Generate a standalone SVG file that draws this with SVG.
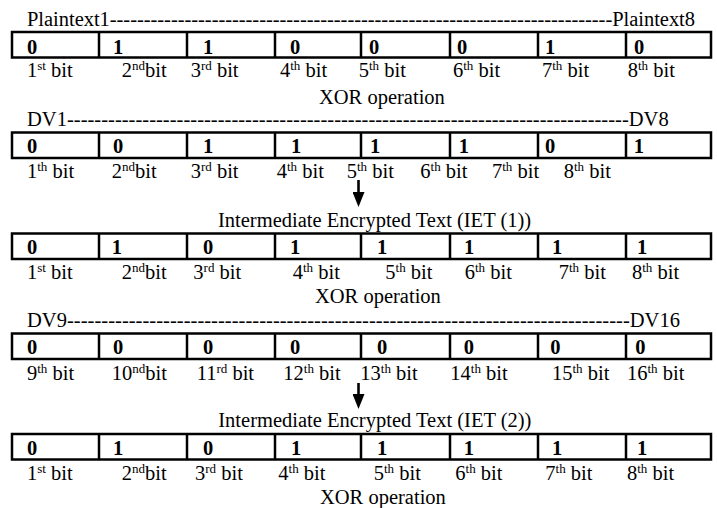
<svg xmlns="http://www.w3.org/2000/svg" width="717" height="508" viewBox="0 0 717 508">
  <style>
    text { font-family: "Liberation Serif", "Times New Roman", serif; font-size: 20.5px; fill: #000; }
    .bit { font-weight: bold; }
    .sup { font-size: 13px; }
    .cell { fill: none; stroke: #000; stroke-width: 2.5; }
    .arrow { stroke: #000; stroke-width: 2.6; fill: none; }
  </style>
  <defs>
    <!-- filled arrowhead, base sits on the end of the shaft -->
    <marker id="head" markerWidth="15" markerHeight="12" refX="0" refY="6" orient="auto" markerUnits="userSpaceOnUse" viewBox="0 0 15 12">
      <path d="M0,0 L15,6 L0,12 Z" fill="#000"/>
    </marker>
    <!-- one 8-cell register row -->
    <g id="reg">
      <rect class="cell" x="12" y="0" width="699" height="25.5"/>
      <path class="cell" d="M99,0 V25.5 M187,0 V25.5 M275,0 V25.5 M361,0 V25.5 M450,0 V25.5 M538,0 V25.5 M626,0 V25.5"/>
    </g>
  </defs>

  <!-- Plaintext register -->
  <g id="plaintext">
    <text x="27" y="26" textLength="668" lengthAdjust="spacing">Plaintext1--------------------------------------------------------------------------Plaintext8</text>
    <use href="#reg" y="32"/>
    <text class="bit" x="27" y="54">0</text>
    <text class="bit" x="113" y="54">1</text>
    <text class="bit" x="203" y="54">1</text>
    <text class="bit" x="290" y="54">0</text>
    <text class="bit" x="369" y="54">0</text>
    <text class="bit" x="457" y="54">0</text>
    <text class="bit" x="545" y="54">1</text>
    <text class="bit" x="634" y="54">0</text>
    <text x="27" y="77">1<tspan class="sup" dy="-7">st</tspan><tspan dy="7"> bit</tspan></text>
    <text x="121.7" y="77">2<tspan class="sup" dy="-7">nd</tspan><tspan dy="7">bit</tspan></text>
    <text x="190.7" y="77">3<tspan class="sup" dy="-7">rd</tspan><tspan dy="7"> bit</tspan></text>
    <text x="280" y="77">4<tspan class="sup" dy="-7">th</tspan><tspan dy="7"> bit</tspan></text>
    <text x="358.7" y="77">5<tspan class="sup" dy="-7">th</tspan><tspan dy="7"> bit</tspan></text>
    <text x="453" y="77">6<tspan class="sup" dy="-7">th</tspan><tspan dy="7"> bit</tspan></text>
    <text x="542" y="77">7<tspan class="sup" dy="-7">th</tspan><tspan dy="7"> bit</tspan></text>
    <text x="627.7" y="77">8<tspan class="sup" dy="-7">th</tspan><tspan dy="7"> bit</tspan></text>
    <text x="319" y="103.5">XOR operation</text>
  </g>

  <!-- Key register DV1..DV8 -->
  <g id="dv1-8">
    <text x="27" y="126" textLength="641.7" lengthAdjust="spacing">DV1----------------------------------------------------------------------------------DV8</text>
    <use href="#reg" y="132.5"/>
    <text class="bit" x="27" y="153">0</text>
    <text class="bit" x="113" y="153">0</text>
    <text class="bit" x="203" y="153">1</text>
    <text class="bit" x="291" y="153">1</text>
    <text class="bit" x="370" y="153">1</text>
    <text class="bit" x="458.7" y="153">1</text>
    <text class="bit" x="545" y="153">0</text>
    <text class="bit" x="633.7" y="153">1</text>
    <text x="27" y="177.5">1<tspan class="sup" dy="-7">th</tspan><tspan dy="7"> bit</tspan></text>
    <text x="111.7" y="177.5">2<tspan class="sup" dy="-7">nd</tspan><tspan dy="7">bit</tspan></text>
    <text x="190.7" y="177.5">3<tspan class="sup" dy="-7">rd</tspan><tspan dy="7"> bit</tspan></text>
    <text x="276.7" y="177.5">4<tspan class="sup" dy="-7">th</tspan><tspan dy="7"> bit</tspan></text>
    <text x="346.7" y="177.5">5<tspan class="sup" dy="-7">th</tspan><tspan dy="7"> bit</tspan></text>
    <text x="420.3" y="177.5">6<tspan class="sup" dy="-7">th</tspan><tspan dy="7"> bit</tspan></text>
    <text x="492" y="177.5">7<tspan class="sup" dy="-7">th</tspan><tspan dy="7"> bit</tspan></text>
    <text x="563.7" y="177.5">8<tspan class="sup" dy="-7">th</tspan><tspan dy="7"> bit</tspan></text>
  </g>

  <!-- IET (1) register -->
  <g id="iet1">
    <text x="218" y="226.5">Intermediate Encrypted Text (IET (1))</text>
    <use href="#reg" y="233.5"/>
    <text class="bit" x="27" y="254.3">0</text>
    <text class="bit" x="111.7" y="254.3">1</text>
    <text class="bit" x="203" y="254.3">0</text>
    <text class="bit" x="290" y="254.3">1</text>
    <text class="bit" x="377" y="254.3">1</text>
    <text class="bit" x="464" y="254.3">1</text>
    <text class="bit" x="552" y="254.3">1</text>
    <text class="bit" x="637" y="254.3">1</text>
    <text x="27" y="279">1<tspan class="sup" dy="-7">st</tspan><tspan dy="7"> bit</tspan></text>
    <text x="121.7" y="279">2<tspan class="sup" dy="-7">nd</tspan><tspan dy="7">bit</tspan></text>
    <text x="193.3" y="279">3<tspan class="sup" dy="-7">rd</tspan><tspan dy="7"> bit</tspan></text>
    <text x="292.7" y="279">4<tspan class="sup" dy="-7">th</tspan><tspan dy="7"> bit</tspan></text>
    <text x="385.3" y="279">5<tspan class="sup" dy="-7">th</tspan><tspan dy="7"> bit</tspan></text>
    <text x="464.7" y="279">6<tspan class="sup" dy="-7">th</tspan><tspan dy="7"> bit</tspan></text>
    <text x="558.7" y="279">7<tspan class="sup" dy="-7">th</tspan><tspan dy="7"> bit</tspan></text>
    <text x="632" y="279">8<tspan class="sup" dy="-7">th</tspan><tspan dy="7"> bit</tspan></text>
    <text x="315" y="303.3">XOR operation</text>
  </g>

  <!-- Key register DV9..DV16 -->
  <g id="dv9-16">
    <text x="27" y="327" textLength="653" lengthAdjust="spacing">DV9----------------------------------------------------------------------------------DV16</text>
    <use href="#reg" y="333.5"/>
    <text class="bit" x="27" y="353.5">0</text>
    <text class="bit" x="113" y="353.5">0</text>
    <text class="bit" x="203" y="353.5">0</text>
    <text class="bit" x="290" y="353.5">0</text>
    <text class="bit" x="377" y="353.5">0</text>
    <text class="bit" x="463.7" y="353.5">0</text>
    <text class="bit" x="550.3" y="353.5">0</text>
    <text class="bit" x="635.3" y="353.5">0</text>
    <text x="27" y="379.5">9<tspan class="sup" dy="-7">th</tspan><tspan dy="7"> bit</tspan></text>
    <text x="111.7" y="379.5">10<tspan class="sup" dy="-7">nd</tspan><tspan dy="7">bit</tspan></text>
    <text x="196.7" y="379.5">11<tspan class="sup" dy="-7">rd</tspan><tspan dy="7"> bit</tspan></text>
    <text x="283.3" y="379.5">12<tspan class="sup" dy="-7">th</tspan><tspan dy="7"> bit</tspan></text>
    <text x="360.3" y="379.5">13<tspan class="sup" dy="-7">th</tspan><tspan dy="7"> bit</tspan></text>
    <text x="450.3" y="379.5">14<tspan class="sup" dy="-7">th</tspan><tspan dy="7"> bit</tspan></text>
    <text x="552" y="379.5">15<tspan class="sup" dy="-7">th</tspan><tspan dy="7"> bit</tspan></text>
    <text x="627" y="379.5">16<tspan class="sup" dy="-7">th</tspan><tspan dy="7"> bit</tspan></text>
  </g>

  <!-- IET (2) register -->
  <g id="iet2">
    <text x="218.3" y="426.7">Intermediate Encrypted Text (IET (2))</text>
    <use href="#reg" y="434"/>
    <text class="bit" x="27" y="455">0</text>
    <text class="bit" x="113" y="455">1</text>
    <text class="bit" x="203" y="455">0</text>
    <text class="bit" x="291" y="455">1</text>
    <text class="bit" x="377" y="455">1</text>
    <text class="bit" x="463.7" y="455">1</text>
    <text class="bit" x="552" y="455">1</text>
    <text class="bit" x="637" y="455">1</text>
    <text x="27" y="479.5">1<tspan class="sup" dy="-7">st</tspan><tspan dy="7"> bit</tspan></text>
    <text x="121.7" y="479.5">2<tspan class="sup" dy="-7">nd</tspan><tspan dy="7">bit</tspan></text>
    <text x="195" y="479.5">3<tspan class="sup" dy="-7">rd</tspan><tspan dy="7"> bit</tspan></text>
    <text x="278.3" y="479.5">4<tspan class="sup" dy="-7">th</tspan><tspan dy="7"> bit</tspan></text>
    <text x="373.7" y="479.5">5<tspan class="sup" dy="-7">th</tspan><tspan dy="7"> bit</tspan></text>
    <text x="455.3" y="479.5">6<tspan class="sup" dy="-7">th</tspan><tspan dy="7"> bit</tspan></text>
    <text x="545.3" y="479.5">7<tspan class="sup" dy="-7">th</tspan><tspan dy="7"> bit</tspan></text>
    <text x="627" y="479.5">8<tspan class="sup" dy="-7">th</tspan><tspan dy="7"> bit</tspan></text>
    <text x="320" y="503.5">XOR operation</text>
  </g>

  <!-- flow arrows between stages -->
  <g id="connectors">
    <path class="arrow" d="M358.5,180 V192" marker-end="url(#head)"/>
    <path class="arrow" d="M358.5,383 V394" marker-end="url(#head)"/>
  </g>
</svg>
